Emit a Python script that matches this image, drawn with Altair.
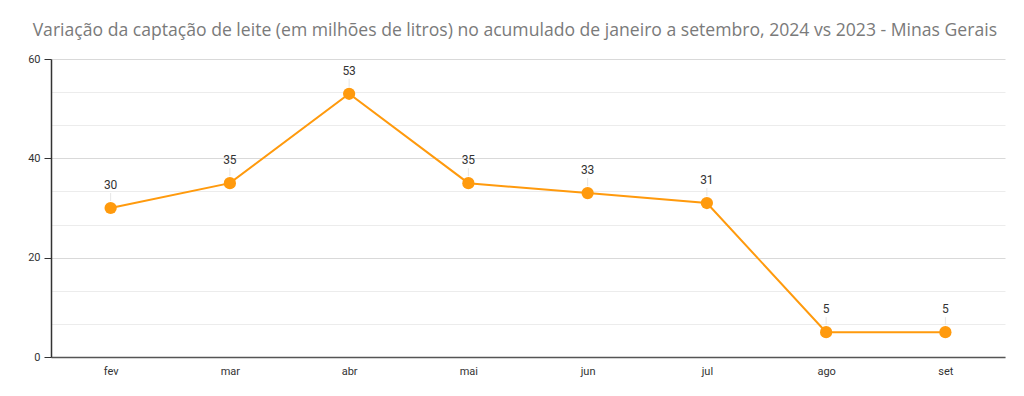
import altair as alt
import pandas as pd

meses = ["fev", "mar", "abr", "mai", "jun", "jul", "ago", "set"]
valores = [30, 35, 53, 35, 33, 31, 5, 5]
grid_vals = [0, 20/3, 40/3, 20, 80/3, 100/3, 40, 140/3, 160/3, 60]

df = pd.DataFrame({"mes": meses, "v": valores})

titulo = "Variação da captação de leite (em milhões de litros) no acumulado de janeiro a setembro, 2024 vs 2023 - Minas Gerais"

major = "abs(datum.value - round(datum.value/20)*20) < 0.01"

x = alt.X("mes:N", sort=meses, title=None,
          scale=alt.Scale(type="point", padding=0.5),
          axis=alt.Axis(labelAngle=0, ticks=False, labelFontSize=11, labelColor="#333",
                        labelFont="Roboto", domainColor="#555", domainWidth=1.5, labelPadding=8,
                        grid=False))
y = alt.Y("v:Q", title=None,
          scale=alt.Scale(domain=[0, 60], nice=False),
          axis=alt.Axis(values=grid_vals, labelExpr=f"{major} ? format(datum.value, 'd') : ''",
                        gridColor={"condition": {"test": major, "value": "#d9d9d9"}, "value": "#ececec"},
                        tickColor={"condition": {"test": major, "value": "#333"}, "value": "transparent"},
                        tickSize=7, labelFontSize=11, labelColor="#333", labelFont="Roboto",
                        domainColor="#333", domainWidth=1.5, labelPadding=4))

base = alt.Chart(df).encode(x=x, y=y)

line = base.mark_line(color="#FF9A0D", strokeWidth=2)
pts = base.mark_circle(color="#FF9A0D", size=150, opacity=1)
lead = base.mark_rule(color="#e6e6e6", strokeWidth=1, yOffset=-7, y2Offset=-15).encode(y2="v:Q")
lab = base.mark_text(dy=-23, fontSize=12, color="#333", font="Roboto").encode(text="v:Q")

chart = alt.layer(lead, line, pts, lab).properties(
    width=954, height=298,
    autosize=alt.AutoSizeParams(type="none"),
    padding={"left": 43, "top": 51, "right": 11, "bottom": 30},
    title=alt.Title(titulo, anchor="start", dx=5, fontSize=17.6, fontWeight="normal",
                    color="#7a7a7a", font="Open Sans", offset=13),
).configure_view(stroke=None)

chart.save("out.html", embed_options={"renderer": "svg", "actions": False})
